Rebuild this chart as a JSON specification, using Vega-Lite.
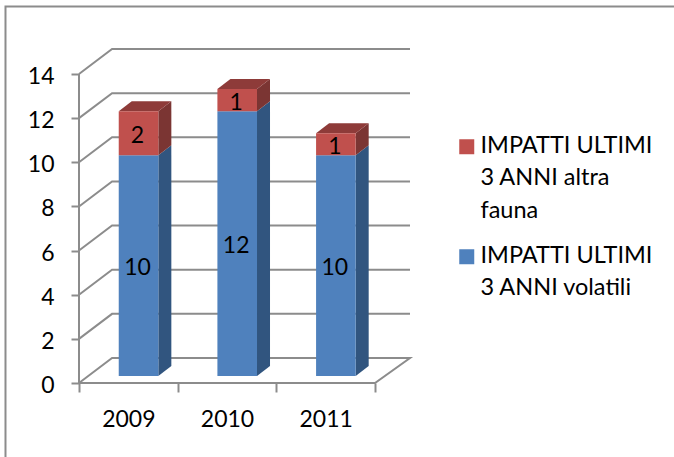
{
"$schema":"https://vega.github.io/schema/vega-lite/v6.json",
"width":331,"height":334,
"autosize":{"type":"none"},
"padding":{"left":79,"top":49,"right":264,"bottom":74},
"background":"white",
"config":{"view":{"stroke":null},"font":"Lato"},
"datasets":{
"bars":[
{"year":2009,"series":"IMPATTI ULTIMI 3 ANNI volatili","value":10},
{"year":2009,"series":"IMPATTI ULTIMI 3 ANNI altra fauna","value":2},
{"year":2010,"series":"IMPATTI ULTIMI 3 ANNI volatili","value":12},
{"year":2010,"series":"IMPATTI ULTIMI 3 ANNI altra fauna","value":1},
{"year":2011,"series":"IMPATTI ULTIMI 3 ANNI volatili","value":10},
{"year":2011,"series":"IMPATTI ULTIMI 3 ANNI altra fauna","value":1}
],
"wall":[
{"level":0,"step":0,"x":2008.5,"y":0},{"level":0,"step":1,"x":2008.835,"y":1.133},{"level":0,"step":2,"x":2011.8546,"y":1.133},{"level":0,"step":3,"x":2011.5,"y":0},{"level":0,"step":4,"x":2008.5,"y":0},
{"level":2,"step":0,"x":2008.5,"y":2},{"level":2,"step":1,"x":2008.835,"y":3.133},{"level":2,"step":2,"x":2011.8546,"y":3.133},
{"level":4,"step":0,"x":2008.5,"y":4},{"level":4,"step":1,"x":2008.835,"y":5.133},{"level":4,"step":2,"x":2011.8546,"y":5.133},
{"level":6,"step":0,"x":2008.5,"y":6},{"level":6,"step":1,"x":2008.835,"y":7.133},{"level":6,"step":2,"x":2011.8546,"y":7.133},
{"level":8,"step":0,"x":2008.5,"y":8},{"level":8,"step":1,"x":2008.835,"y":9.133},{"level":8,"step":2,"x":2011.8546,"y":9.133},
{"level":10,"step":0,"x":2008.5,"y":10},{"level":10,"step":1,"x":2008.835,"y":11.133},{"level":10,"step":2,"x":2011.8546,"y":11.133},
{"level":12,"step":0,"x":2008.5,"y":12},{"level":12,"step":1,"x":2008.835,"y":13.133},{"level":12,"step":2,"x":2011.8546,"y":13.133},
{"level":14,"step":0,"x":2008.5,"y":14},{"level":14,"step":1,"x":2008.835,"y":15.133},{"level":14,"step":2,"x":2011.8546,"y":15.133},
{"level":99,"step":0,"x":2008.5,"y":0},{"level":99,"step":1,"x":2008.5,"y":14},
{"level":100,"step":0,"x":2014.53,"y":17.06},{"level":100,"step":1,"x":2007.755,"y":17.06},{"level":100,"step":2,"x":2007.755,"y":-3.36}
],
"sides":[
{"year":2009,"part":"blue","x":2009.2007,"low":0,"high":10},{"year":2009,"part":"blue","x":2009.3325,"low":0.453,"high":10.453},
{"year":2010,"part":"blue","x":2010.2007,"low":0,"high":12},{"year":2010,"part":"blue","x":2010.3325,"low":0.453,"high":12.453},
{"year":2011,"part":"blue","x":2011.2007,"low":0,"high":10},{"year":2011,"part":"blue","x":2011.3325,"low":0.453,"high":10.453},
{"year":2009,"part":"red","x":2009.2007,"low":10,"high":12},{"year":2009,"part":"red","x":2009.3325,"low":10.453,"high":12.453},
{"year":2010,"part":"red","x":2010.2007,"low":12,"high":13},{"year":2010,"part":"red","x":2010.3325,"low":12.453,"high":13.453},
{"year":2011,"part":"red","x":2011.2007,"low":10,"high":11},{"year":2011,"part":"red","x":2011.3325,"low":10.453,"high":11.453}
],
"tops":[
{"year":2009,"left":2008.7993,"right":2009.2007,"y":12},{"year":2009,"left":2008.9311,"right":2009.3325,"y":12.453},
{"year":2010,"left":2009.7993,"right":2010.2007,"y":13},{"year":2010,"left":2009.9311,"right":2010.3325,"y":13.453},
{"year":2011,"left":2010.7993,"right":2011.2007,"y":11},{"year":2011,"left":2010.9311,"right":2011.3325,"y":11.453}
]
},
"layer":[
{"data":{"name":"wall"},"mark":{"type":"line","color":"#8c8c8c","strokeWidth":2,"clip":false,"interpolate":"linear"},
 "encoding":{
  "x":{"field":"x","type":"quantitative","scale":{"domain":[2008.5,2011.8546],"nice":false,"zero":false,"padding":0},
   "axis":{"title":null,"domain":false,"grid":false,"values":[2008.5,2009,2009.5,2010,2010.5,2011,2011.5],"labelExpr":"datum.value % 1 == 0 ? format(datum.value,'d') : ''","tickSize":9,"tickWidth":2,"tickColor":"#8c8c8c","tickOpacity":{"condition":{"test":"datum.value % 1 == 0","value":0},"value":1},"labelFontSize":23,"labelFont":"Lato","labelColor":"black","labelPadding":16,"labelOverlap":false,"labelFlush":false}},
  "y":{"field":"y","type":"quantitative","scale":{"domain":[0,15.133],"nice":false,"padding":0},
   "axis":{"title":null,"domain":false,"grid":false,"values":[0,2,4,6,8,10,12,14],"tickSize":8,"tickWidth":2,"tickColor":"#8c8c8c","labelFontSize":23,"labelFont":"Lato","labelColor":"black","labelPadding":17,"labelOffset":2.5}},
  "detail":{"field":"level"},"order":{"field":"step"}}},
{"data":{"name":"sides"},"transform":[{"filter":"datum.part=='blue'"}],"mark":{"type":"area","color":"#31557f","xOffset":10.2,"yOffset":-7,"y2Offset":-7},
 "encoding":{"x":{"field":"x","type":"quantitative"},"y":{"field":"low","type":"quantitative"},"y2":{"field":"high"},"detail":{"field":"year"}}},
{"data":{"name":"sides"},"transform":[{"filter":"datum.part=='red'"}],"mark":{"type":"area","color":"#7b3533","xOffset":10.2,"yOffset":-7,"y2Offset":-7},
 "encoding":{"x":{"field":"x","type":"quantitative"},"y":{"field":"low","type":"quantitative"},"y2":{"field":"high"},"detail":{"field":"year"}}},
{"data":{"name":"tops"},"mark":{"type":"area","orient":"horizontal","color":"#8e3b39","xOffset":10.2,"x2Offset":10.2,"yOffset":-7},
 "encoding":{"x":{"field":"left","type":"quantitative"},"x2":{"field":"right"},"y":{"field":"y","type":"quantitative"},"detail":{"field":"year"}}},
{"data":{"name":"bars"},"mark":{"type":"bar","size":39.6,"xOffset":10.2,"yOffset":-7,"y2Offset":-7},
 "encoding":{"x":{"field":"year","type":"quantitative"},
  "y":{"field":"value","type":"quantitative","stack":"zero"},
  "color":{"field":"series","type":"nominal","scale":{"range":["#c0504d","#4f81bd"]},
   "legend":{"title":null,"orient":"none","legendX":376,"legendY":86,"padding":0,"symbolType":"square","symbolSize":225,"symbolStrokeWidth":0,"symbolOpacity":1,"labelFont":"Lato","labelFontSize":23.5,"labelColor":"black","labelLimit":300,"labelOffset":2,"labelBaseline":"top","rowPadding":20,
   "labelExpr":"indexof(datum.label,'fauna') >= 0 ? ['IMPATTI ULTIMI','3 ANNI altra','fauna'] : ['IMPATTI ULTIMI','3 ANNI volatili']",
   "encode":{"labels":{"update":{"lineHeight":{"value":32.5},"dy":{"value":-13}}}}}}}},
{"data":{"name":"bars"},"mark":{"type":"text","font":"Lato","fontSize":23,"color":"black","xOffset":9.2,"yOffset":-4.5},
 "encoding":{"x":{"field":"year","type":"quantitative"},
  "y":{"field":"value","type":"quantitative","stack":"zero","bandPosition":0.5},
  "detail":{"field":"series"},
  "text":{"field":"value","type":"quantitative"}}}
]
}
